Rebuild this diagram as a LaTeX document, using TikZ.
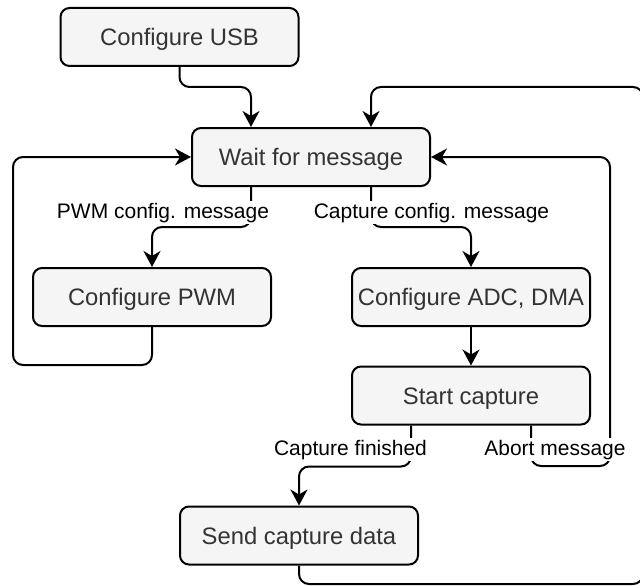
\documentclass[tikz,border=0pt]{standalone}
\usepackage{fontspec}
\setmainfont{Liberation Sans}
\usetikzlibrary{arrows.meta,calc}
\definecolor{boxfill}{HTML}{F5F5F5}
\definecolor{boxtext}{HTML}{333333}
\tikzset{
  stepbox/.style={draw=black, line width=2pt, fill=boxfill, rounded corners=9pt,
    minimum width=238pt, minimum height=58pt, inner sep=0pt,
    text=boxtext, font=\fontsize{23.8}{26}\selectfont,
    text height=17pt, text depth=0pt},
  conn/.style={draw=black, line width=2pt, rounded corners=10pt,
    -{Stealth[length=16pt,width=17pt,inset=5pt]}},
  line/.style={draw=black, line width=2pt, rounded corners=10pt},
  edgelabel/.style={fill=white, inner sep=2pt, anchor=base, text=black,
    font=\fontsize{21}{24}\selectfont}
}
\begin{document}
\begin{tikzpicture}[x=1pt, y=-1pt]
  \useasboundingbox (0,0) rectangle (640,586);

  % process steps
  \node[stepbox] (usb)   at (179.5,37)  {Configure USB};
  \node[stepbox] (wait)  at (311,157)   {Wait for message};
  \node[stepbox] (pwm)   at (152,297)   {Configure PWM};
  \node[stepbox] (adc)   at (471,297)   {Configure ADC, DMA};
  \node[stepbox] (start) at (471,395.5) {Start capture};
  \node[stepbox] (send)  at (299,535.5) {Send capture data};

  % attachment points at a quarter and three quarters of a box side
  \coordinate (waitN1) at ($(wait.north west)!.25!(wait.north east)$);
  \coordinate (waitN3) at ($(wait.north west)!.75!(wait.north east)$);
  \coordinate (waitS1) at ($(wait.south west)!.25!(wait.south east)$);
  \coordinate (waitS3) at ($(wait.south west)!.75!(wait.south east)$);
  \coordinate (startS1) at ($(start.south west)!.25!(start.south east)$);
  \coordinate (startS3) at ($(start.south west)!.75!(start.south east)$);

  % bends of the return paths
  \coordinate (pwmBack)   at (13,365);
  \coordinate (abortBend) at (610,466);
  \coordinate (outerBot)  at (643,584);
  \coordinate (outerTop)  at (643,87);

  % connectors
  \draw[conn] (usb.south) -- ++(0,20) -| (waitN1);
  \draw[conn] (send.south) |- (outerBot) -- (outerTop) -| (waitN3);
  \draw[conn] (waitS1) -- ++(0,40) -| (pwm.north);
  \draw[conn] (waitS3) -- ++(0,40) -| (adc.north);
  \draw[conn] (pwm.south) |- (pwmBack) |- (wait.west);
  \draw[conn] (adc.south) -- (start.north);
  \draw[conn] (startS1) -- ++(0,41) -| (send.north);
  \draw[conn] (startS3) |- (abortBend) |- (wait.east);

  % connector labels
  \node[edgelabel] (lpwm)   at (163,218)   {PWM config. message};
  \node[edgelabel] (lcap)   at (431.5,218) {Capture config. message};
  \node[edgelabel] (lfin)   at (350.5,455) {Capture finished};
  \node[edgelabel] (labort) at (555,455)   {Abort message};
\end{tikzpicture}
\end{document}
